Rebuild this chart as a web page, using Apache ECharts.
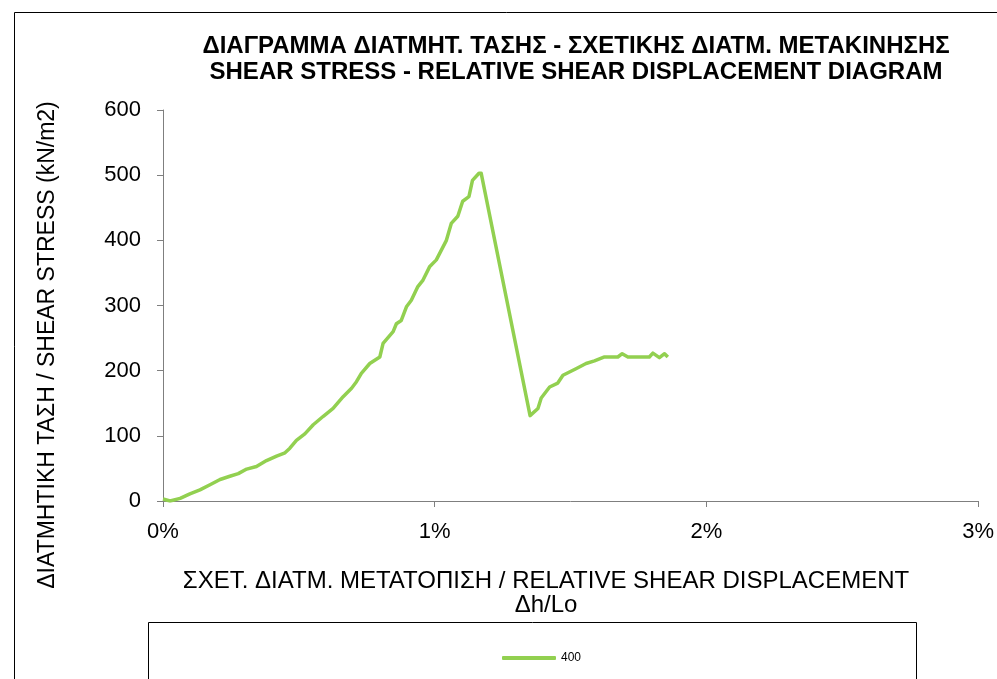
<!DOCTYPE html>
<html>
<head>
<meta charset="utf-8">
<script src="https://cdn.jsdelivr.net/npm/echarts@6/dist/echarts.min.js"></script>
<style>
html,body{margin:0;padding:0;background:#fff;}
#chart{width:997px;height:679px;}
</style>
</head>
<body>
<div id="chart"></div>
<script>
// Relative shear displacement Δh/Lo (%)
const xValues = [0, 0.007, 0.026, 0.063, 0.099, 0.136, 0.173, 0.210, 0.246, 0.277, 0.308, 0.344, 0.381, 0.418, 0.449, 0.467, 0.491, 0.522, 0.553, 0.590, 0.626, 0.663, 0.694, 0.712, 0.730, 0.761, 0.798, 0.810, 0.847, 0.859, 0.877, 0.896, 0.914, 0.938, 0.957, 0.982, 1.006, 1.043, 1.061, 1.085, 1.103, 1.126, 1.139, 1.163, 1.171, 1.351, 1.380, 1.392, 1.423, 1.453, 1.472, 1.496, 1.520, 1.557, 1.588, 1.625, 1.674, 1.690, 1.711, 1.790, 1.803, 1.827, 1.846, 1.858];
// Shear stress (kN/m2)
const stressValues = [3, 4, 0, 4, 11, 17, 25, 33, 38, 42, 49, 53, 62, 69, 74, 81, 93, 103, 117, 130, 142, 160, 173, 183, 196, 211, 221, 242, 260, 272, 277, 298, 308, 329, 339, 360, 370, 400, 426, 437, 460, 467, 492, 503, 503, 131, 142, 158, 175, 181, 193, 198, 203, 211, 215, 221, 221, 226, 221, 221, 227, 220, 226, 221];
const seriesName = '400';
const xTicks = [0, 1, 2, 3];
const yTicks = [0, 100, 200, 300, 400, 500, 600];
const titleLines = ['ΔΙΑΓΡΑΜΜΑ ΔΙΑΤΜΗΤ. ΤΑΣΗΣ - ΣΧΕΤΙΚΗΣ ΔΙΑΤΜ. ΜΕΤΑΚΙΝΗΣΗΣ', 'SHEAR STRESS - RELATIVE SHEAR DISPLACEMENT DIAGRAM'];
const xTitleLines = ['ΣΧΕΤ. ΔΙΑΤΜ. ΜΕΤΑΤΟΠΙΣΗ / RELATIVE SHEAR DISPLACEMENT', 'Δh/Lo'];
const yTitle = 'ΔΙΑΤΜΗΤΙΚΗ ΤΑΣΗ / SHEAR STRESS (kN/m2)';

const data = xValues.map((x, i) => [x, stressValues[i]]);
const font = '"Liberation Sans", Arial, sans-serif';
const chart = echarts.init(document.getElementById('chart'));
chart.setOption({
  animation: false,
  backgroundColor: '#fff',
  grid: {left: 163, right: 18, top: 110, bottom: 178},
  xAxis: {
    type: 'value', min: xTicks[0], max: xTicks[xTicks.length - 1], interval: 1,
    axisLine: {lineStyle: {color: '#7f7f7f', width: 1}},
    axisTick: {show: true, inside: false, length: 6, lineStyle: {color: '#7f7f7f'}},
    splitLine: {show: false},
    axisLabel: {formatter: '{value}%', color: '#000', fontSize: 22, fontFamily: font, margin: 20}
  },
  yAxis: {
    type: 'value', min: yTicks[0], max: yTicks[yTicks.length - 1], interval: 100,
    axisLine: {show: true, lineStyle: {color: '#7f7f7f', width: 1}},
    axisTick: {show: true, inside: false, length: 6, lineStyle: {color: '#7f7f7f'}},
    splitLine: {show: false},
    axisLabel: {color: '#000', fontSize: 22, fontFamily: font, margin: 22}
  },
  legend: {
    data: [{name: seriesName, icon: 'roundRect'}], left: 497, top: 647, itemWidth: 54, itemHeight: 4, itemGap: 5,
    textStyle: {fontSize: 12, fontFamily: font, color: '#000', padding: [0, 0, 0, 0]}
  },
  series: [{
    name: seriesName, type: 'line', data: data, showSymbol: false, symbol: 'none',
    lineStyle: {color: '#92d050', width: 3.5, join: 'round'}, itemStyle: {color: '#92d050'}
  }],
  graphic: [
    {type: 'rect', shape: {x: 14.5, y: 12.5, width: 1000, height: 700}, style: {fill: 'none', stroke: '#000', lineWidth: 1}, z: -1},
    {type: 'rect', shape: {x: 148.5, y: 622.5, width: 768, height: 80}, style: {fill: 'none', stroke: '#000', lineWidth: 1}, z: -1},
    {type: 'text', x: 576, y: 46, style: {text: titleLines[0], font: 'bold 24px ' + font, fill: '#000', align: 'center', verticalAlign: 'middle'}},
    {type: 'text', x: 576, y: 72, style: {text: titleLines[1], font: 'bold 24px ' + font, fill: '#000', align: 'center', verticalAlign: 'middle'}},
    {type: 'text', x: 546, y: 581, style: {text: xTitleLines[0], font: '24px ' + font, fill: '#000', align: 'center', verticalAlign: 'middle'}},
    {type: 'text', x: 546, y: 605, style: {text: xTitleLines[1], font: '24px ' + font, fill: '#000', align: 'center', verticalAlign: 'middle'}},
    {type: 'text', x: 48, y: 345, rotation: Math.PI / 2, style: {text: yTitle, font: '23px ' + font, fill: '#000', align: 'center', verticalAlign: 'middle'}}
  ]
});
</script>
</body>
</html>
